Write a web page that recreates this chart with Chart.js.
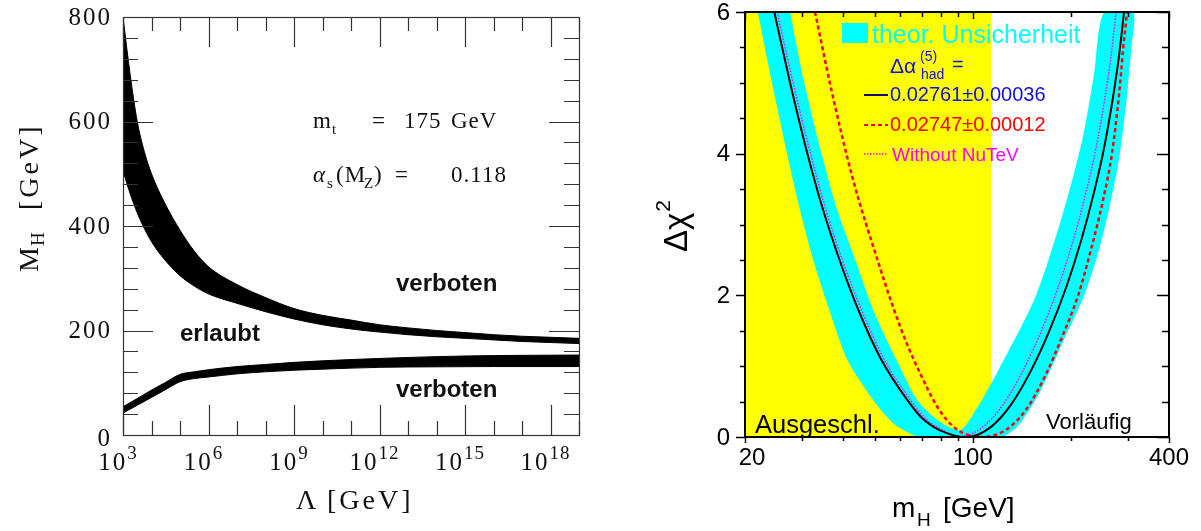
<!DOCTYPE html>
<html><head><meta charset="utf-8">
<script src="https://cdn.jsdelivr.net/npm/chart.js@4.4.1/dist/chart.umd.min.js"></script>
<style>
html,body{margin:0;padding:0;background:#fff;}
#wrap{position:relative;width:1201px;height:531px;overflow:hidden;background:#fff;}
#c1{position:absolute;left:0;top:0;}
#c2{position:absolute;left:600px;top:0;}
</style></head><body>
<div id="wrap"><canvas id="c1" width="600" height="531"></canvas><canvas id="c2" width="601" height="531"></canvas></div>
<script>
// ---------- LEFT PANEL DATA (Lambda exponent, M_H in GeV) ----------
const lambdaExpUpper = [3,3.25,3.5,3.75,4,4.5,5,5.5,6,7,8,9,10,11,12,13,14,15,16,17,18,19];
const upperBandLow  = [505,462,425,395,370,333,305,285,270,252,236,222,211,203,197,192,188,185,182,179,177,175];
const upperBandHigh = [800,690,600,542,500,440,392,352,322,288,263,242,229,220,211,205,200,196,192,189,187,185];
const lambdaExpLower = [3,3.5,4,4.5,5,5.5,6,7,8,9,10,12,14,16,19];
const lowerBandLow  = [42,57,72,87,102,108,111,117,121,124,126,129.5,130.5,131,131];
const lowerBandHigh = [54,70,86,101,116,121,125,131,135,139,142,146.5,150,152,153];
const lambdaTickExp = [3,4,5,6,7,8,9,10,11,12,13,14,15,16,17,18,19];
const lambdaLabelExp = [3,6,9,12,15,18];
const massTicks = [0,40,80,120,160,200,240,280,320,360,400,440,480,520,560,600,640,680,720,760,800];
const massLabels = [0,200,400,600,800];

// ---------- RIGHT PANEL DATA (m_H in GeV, Delta chi^2) ----------
const excludedM = [20, 114.4];
const excludedChi = [6, 6];
const blackM   = [24.6,27.5,30.8,34.5,39.2,44.5,52.0,63.0,70.1,79.6,95.7,113.5,130.7,150.6,171.1,193.0,214.6,235.4,252.8,269.4,281.0,291.2];
const blackChi = [6.0,5.00,4.07,3.25,2.47,1.80,1.12,0.52,0.26,0.09,0,0.14,0.45,0.93,1.48,2.10,2.76,3.45,4.08,4.80,5.38,6.0];
const redM   = [32.8,37.0,42.7,51.0,57.1,63.0,68.6,78.0,88.6,106.0,126.2,145.4,167.5,189.0,210.2,230.4,251.1,267.5,281.0,289.1,297.4];
const redChi = [6.0,4.86,3.67,2.50,1.82,1.30,0.92,0.42,0.12,0,0.10,0.38,0.88,1.44,1.99,2.64,3.35,4.01,4.83,5.46,6.0];
const magentaM   = [25.1,28.1,31.5,35.2,40.0,45.5,53.1,64.4,71.6,81.3,90.4,107.3,123.5,142.3,161.7,182.4,202.8,222.5,238.9,254.6,265.6,275.2];
const magentaChi = [6.0,5.00,4.07,3.25,2.47,1.80,1.12,0.52,0.26,0.09,0,0.14,0.45,0.93,1.48,2.10,2.76,3.45,4.08,4.80,5.38,6.0];
// theory band: lower envelope (left to right) and upper envelope (left to right)
const bandLowerM   = [21.9,24.2,26.9,29.3,32.4,36.3,41.2,49.5,57.9,69.1,121.8,138.4,161.7,190.3,219.3,244.0,265.6,283.0,297.4,306.0,310.2];
const bandLowerChi = [6.0,5.0,4.01,3.26,2.5,1.79,1.09,0.52,0.17,0,0,0.17,0.66,1.37,1.99,2.64,3.35,4.01,4.83,5.46,6.0];
const bandUpperM   = [27.5,30.4,34.3,38.4,43.6,49.5,58.3,67.6,79.6,91.7,102.1,120.1,156.1,190.3,217.8,235.4,252.8];
const bandUpperChi = [6.0,5.0,4.01,3.2,2.5,1.79,1.09,0.52,0.21,0.10,0.38,0.95,1.99,3.2,4.24,5.11,6.0];
const chiTicks = [0,0.5,1,1.5,2,2.5,3,3.5,4,4.5,5,5.5,6];
const chiLabels = [0,2,4,6];
const mhMajor = [20,100,400];
const mhMinor = [30,40,50,60,70,80,90,200,300];

const SERIF = '"Liberation Serif", "DejaVu Serif", serif';
const SANS = '"Liberation Sans", Arial, sans-serif';

function pts(xs, ys, fx) { return xs.map((v, i) => ({x: fx ? fx(v) : v, y: ys[i]})); }
const pow10 = e => Math.pow(10, e);

// ---------- LEFT CHART ----------
const leftDeco = {
  id: 'leftDeco',
  afterDraw(chart) {
    const {ctx, chartArea: a, scales: {x, y}} = chart;
    ctx.save();
    ctx.strokeStyle = '#333'; ctx.lineWidth = 1.2;
    ctx.beginPath();
    for (const e of lambdaTickExp) {
      const px = Math.round(x.getPixelForValue(pow10(e))) + 0.5;
      const len = lambdaLabelExp.includes(e) ? 30 : 14;
      ctx.moveTo(px, a.bottom); ctx.lineTo(px, a.bottom - len);
      ctx.moveTo(px, a.top); ctx.lineTo(px, a.top + len);
    }
    for (const m of massTicks) {
      const py = Math.round(y.getPixelForValue(m)) + 0.5;
      const len = massLabels.includes(m) ? 30 : 15;
      ctx.moveTo(a.left, py); ctx.lineTo(a.left + len, py);
      ctx.moveTo(a.right, py); ctx.lineTo(a.right - len, py);
    }
    ctx.stroke();
    ctx.strokeRect(a.left + 0.5, a.top + 0.5, a.right - a.left, a.bottom - a.top);

    ctx.fillStyle = '#111';
    ctx.letterSpacing = '2px';
    ctx.font = '25px ' + SERIF;
    ctx.textAlign = 'right'; ctx.textBaseline = 'middle';
    for (const m of massLabels) {
      const py = y.getPixelForValue(m) + (m === 0 ? 4 : 1);
      ctx.fillText(String(m), 112, py);
    }
    ctx.textAlign = 'left'; ctx.textBaseline = 'alphabetic';
    for (const e of lambdaLabelExp) {
      const cx = x.getPixelForValue(pow10(e)) - 5;
      ctx.font = '25px ' + SERIF; ctx.letterSpacing = '2px';
      const w1 = ctx.measureText('10').width;
      ctx.font = '19px ' + SERIF; ctx.letterSpacing = '1px';
      const w2 = ctx.measureText(String(e)).width;
      const sx = cx - (w1 + w2) / 2;
      ctx.font = '25px ' + SERIF; ctx.letterSpacing = '2px';
      ctx.fillText('10', sx, 470);
      ctx.font = '19px ' + SERIF; ctx.letterSpacing = '1px';
      ctx.fillText(String(e), sx + w1, 459);
    }
    // axis titles
    ctx.letterSpacing = '3px';
    ctx.font = '28px ' + SERIF;
    ctx.fillText('\u039B', 296, 509);
    ctx.fillText('[GeV]', 327, 509);
    ctx.save();
    ctx.translate(38, 272); ctx.rotate(-Math.PI / 2);
    ctx.font = '28px ' + SERIF;
    ctx.fillText('M', 0, 0);
    let w = ctx.measureText('M').width;
    ctx.font = '19px ' + SERIF; ctx.letterSpacing = '1px';
    ctx.fillText('H', w - 2, 6);
    ctx.font = '28px ' + SERIF; ctx.letterSpacing = '3px';
    ctx.fillText('[GeV]', 62, 0);
    ctx.restore();

    // annotation text
    ctx.letterSpacing = '1px';
    ctx.font = '23px ' + SERIF;
    ctx.fillText('m', 313, 128);
    ctx.font = '15px ' + SERIF; ctx.fillText('t', 332, 134);
    ctx.font = '23px ' + SERIF;
    ctx.fillText('=', 372, 128);
    ctx.fillText('175', 404, 128);
    ctx.fillText('GeV', 451, 128);
    ctx.font = 'italic 23px ' + SERIF; ctx.fillText('\u03B1', 313, 182);
    ctx.font = '15px ' + SERIF; ctx.fillText('s', 327, 188);
    ctx.font = '23px ' + SERIF; ctx.fillText('(M', 336, 182);
    ctx.font = '15px ' + SERIF; ctx.fillText('Z', 364, 188);
    ctx.font = '23px ' + SERIF; ctx.fillText(')', 374, 182);
    ctx.fillText('=', 395, 182);
    ctx.fillText('0.118', 451, 182);

    ctx.letterSpacing = '0px';
    ctx.font = 'bold 24px ' + SANS;
    ctx.fillText('verboten', 396, 291);
    ctx.fillText('erlaubt', 180, 341);
    ctx.fillText('verboten', 396, 397);
    ctx.restore();
  }
};

new Chart(document.getElementById('c1'), {
  type: 'line',
  data: {
    datasets: [
      {data: pts(lambdaExpUpper, upperBandLow, pow10), borderColor: '#000', borderWidth: 1, backgroundColor: '#000', fill: false, pointRadius: 0, cubicInterpolationMode: 'monotone'},
      {data: pts(lambdaExpUpper, upperBandHigh, pow10), borderColor: '#000', borderWidth: 1, backgroundColor: '#000', fill: '-1', pointRadius: 0, cubicInterpolationMode: 'monotone'},
      {data: pts(lambdaExpLower, lowerBandLow, pow10), borderColor: '#000', borderWidth: 1, backgroundColor: '#000', fill: false, pointRadius: 0, cubicInterpolationMode: 'monotone'},
      {data: pts(lambdaExpLower, lowerBandHigh, pow10), borderColor: '#000', borderWidth: 1, backgroundColor: '#000', fill: '-1', pointRadius: 0, cubicInterpolationMode: 'monotone'}
    ]
  },
  options: {
    responsive: false, animation: false, events: [],
    layout: {padding: {left: 123, right: 21, top: 17, bottom: 96}},
    scales: {
      x: {type: 'logarithmic', min: 1e3, max: 1e19, display: false},
      y: {type: 'linear', min: 0, max: 800, display: false}
    },
    plugins: {legend: {display: false}, tooltip: {enabled: false}}
  },
  plugins: [leftDeco]
});

// ---------- RIGHT CHART ----------
const rightDeco = {
  id: 'rightDeco',
  afterDraw(chart) {
    const {ctx, chartArea: a, scales: {x, y}} = chart;
    ctx.save();
    ctx.strokeStyle = '#000';
    ctx.lineWidth = 1.5;
    ctx.beginPath();
    for (const v of chiTicks) {
      const py = Math.round(y.getPixelForValue(v)) + 0.5;
      const major = chiLabels.includes(v);
      ctx.moveTo(a.left, py); ctx.lineTo(a.left - (major ? 9 : 5), py);
      ctx.moveTo(a.right, py); ctx.lineTo(a.right - (major ? 12 : 7), py);
    }
    for (const v of mhMajor.concat(mhMinor)) {
      const px = Math.round(x.getPixelForValue(v)) + 0.5;
      const major = mhMajor.includes(v);
      ctx.moveTo(px, a.bottom); ctx.lineTo(px, a.bottom + (major ? 6 : 4));
      ctx.moveTo(px, a.top); ctx.lineTo(px, a.top + (major ? 7 : 5));
    }
    ctx.stroke();
    ctx.lineWidth = 2;
    ctx.strokeRect(a.left, a.top, a.right - a.left, a.bottom - a.top);

    ctx.fillStyle = '#000';
    ctx.font = '24px ' + SANS;
    ctx.textAlign = 'right'; ctx.textBaseline = 'middle';
    for (const v of chiLabels) ctx.fillText(String(v), 130, y.getPixelForValue(v) + 1);
    ctx.textAlign = 'center'; ctx.textBaseline = 'alphabetic';
    mhMajor.forEach((v, i) => ctx.fillText(String(v), x.getPixelForValue(v) + (i === 0 ? 7 : 0), 465));
    ctx.textAlign = 'left';

    // axis titles
    ctx.font = '28px ' + SANS;
    ctx.fillText('m', 292, 517);
    ctx.font = '19px ' + SANS; ctx.fillText('H', 317, 526);
    ctx.font = '28px ' + SANS; ctx.fillText('[GeV]', 343, 517);
    ctx.save();
    ctx.translate(87, 252); ctx.rotate(-Math.PI / 2);
    ctx.font = '33px ' + SANS;
    ctx.fillText('\u0394\u03C7', 0, 0);
    const w = ctx.measureText('\u0394\u03C7').width;
    ctx.font = '21px ' + SANS;
    ctx.fillText('2', w + 1, -17);
    ctx.restore();

    // region labels
    ctx.font = '25.5px ' + SANS; ctx.fillStyle = '#000';
    ctx.fillText('Ausgeschl.', 155, 433);
    ctx.font = '22px ' + SANS;
    ctx.fillText('Vorl\u00E4ufig', 446, 429);

    // legend
    ctx.fillStyle = '#00FFFF';
    ctx.fillRect(242, 23, 26, 20);
    ctx.font = '25px ' + SANS;
    ctx.fillText('theor. Unsicherheit', 272, 43);
    ctx.fillStyle = '#1010E0';
    ctx.font = '21px ' + SANS;
    ctx.fillText('\u0394\u03B1', 290, 73);
    ctx.font = '14px ' + SANS;
    ctx.fillText('(5)', 320, 61);
    ctx.fillText('had', 321, 79);
    ctx.font = '20px ' + SANS;
    ctx.fillText('=', 352, 71);
    ctx.fillText('0.02761\u00B10.00036', 290, 101);
    ctx.fillStyle = '#FF0000';
    ctx.fillText('0.02747\u00B10.00012', 290, 131);
    ctx.fillStyle = '#FF00FF';
    ctx.font = '19px ' + SANS;
    ctx.fillText('Without NuTeV', 292, 161);
    // legend samples
    ctx.lineWidth = 2; ctx.strokeStyle = '#10106a'; ctx.setLineDash([]);
    ctx.beginPath(); ctx.moveTo(264, 95); ctx.lineTo(288, 95); ctx.stroke();
    ctx.strokeStyle = '#FF0000'; ctx.setLineDash([4, 3]);
    ctx.beginPath(); ctx.moveTo(264, 125); ctx.lineTo(288, 125); ctx.stroke();
    ctx.strokeStyle = '#FF00FF'; ctx.lineWidth = 1.5; ctx.setLineDash([1.5, 1.5]);
    ctx.beginPath(); ctx.moveTo(264, 154); ctx.lineTo(288, 154); ctx.stroke();
    ctx.restore();
  }
};

const bandPolygon = pts(bandLowerM, bandLowerChi).concat(pts(bandUpperM, bandUpperChi).reverse());

new Chart(document.getElementById('c2'), {
  type: 'line',
  data: {
    datasets: [
      {data: pts(blackM, blackChi), borderColor: '#000', borderWidth: 2, fill: false, pointRadius: 0, cubicInterpolationMode: 'monotone', order: 1},
      {data: pts(magentaM, magentaChi), borderColor: '#FF00FF', borderWidth: 1.5, borderDash: [1.5, 1.5], fill: false, pointRadius: 0, cubicInterpolationMode: 'monotone', order: 2},
      {data: pts(redM, redChi), borderColor: '#FF0000', borderWidth: 2.5, borderDash: [4, 3], fill: false, pointRadius: 0, cubicInterpolationMode: 'monotone', order: 3},
      {data: bandPolygon, borderWidth: 0, backgroundColor: '#00FFFF', fill: 'shape', pointRadius: 0, tension: 0.25, order: 5},
      {data: pts(excludedM, excludedChi), borderWidth: 0, backgroundColor: '#FFFF00', fill: 'origin', pointRadius: 0, order: 10}
    ]
  },
  options: {
    responsive: false, animation: false, events: [],
    layout: {padding: {left: 145, right: 32, top: 12, bottom: 94}},
    scales: {
      x: {type: 'logarithmic', min: 20, max: 400, display: false},
      y: {type: 'linear', min: 0, max: 6, display: false}
    },
    plugins: {legend: {display: false}, tooltip: {enabled: false}}
  },
  plugins: [rightDeco]
});
</script>
</body></html>
